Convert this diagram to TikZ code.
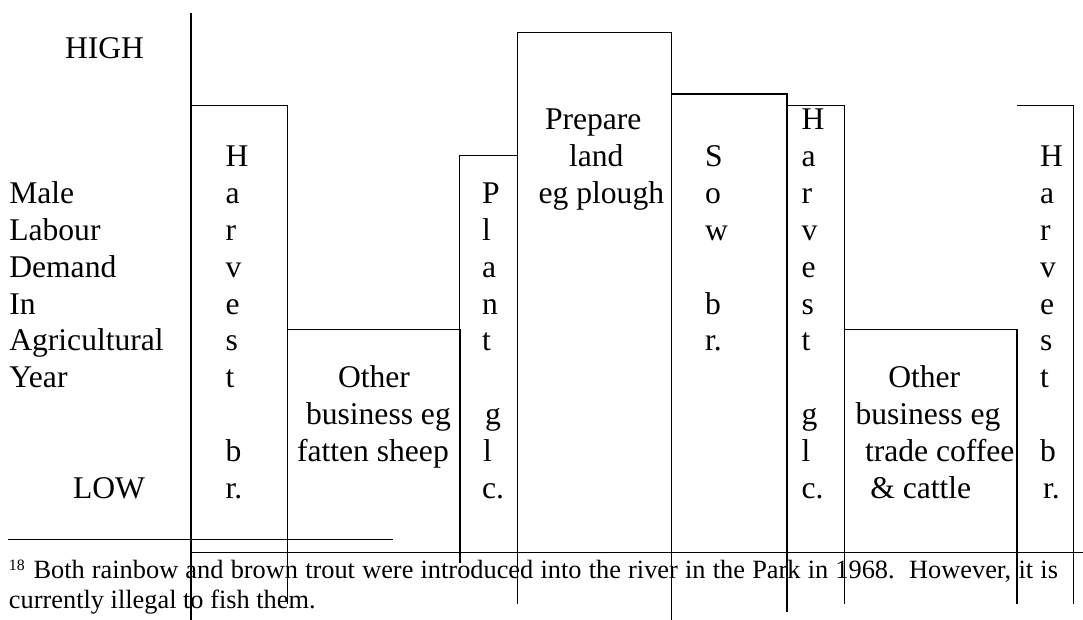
\documentclass[tikz,border=0pt]{standalone}
\usepackage{fontspec}
\setmainfont{Liberation Serif}
\newcommand\rowbox[1]{\hbox{#1}}
\newcommand\colstack[1]{\vtop{\baselineskip=36.84pt\lineskiplimit=-1000pt\lineskip=0pt #1}}
\tikzset{
  lbl/.style={anchor=base west, inner sep=0pt, outer sep=0pt, font=\fontsize{31.6}{36.84}\selectfont},
  fnote/.style={anchor=base west, inner sep=0pt, outer sep=0pt, font=\fontsize{26.35}{30.3}\selectfont},
  fnmark/.style={anchor=base west, inner sep=0pt, outer sep=0pt, font=\fontsize{15.8}{18}\selectfont},
  bar/.style={line width=1.3pt, draw=black},
  rule/.style={line width=1.5pt, draw=black}
}
\begin{document}
\begin{tikzpicture}[x=1pt,y=-1pt]
\useasboundingbox (0,0) rectangle (1083,620);
% grid baselines: y_k = 166.7 + 36.84 k
% axis and bars
\draw[bar] (191,12.7) -- (191,620);
\draw[bar] (191,105.5) -- (287.3,105.5) -- (287.3,604);
\draw[bar] (287.3,329.3) -- (460,329.3) -- (460,563);
\draw[bar] (459.4,367) -- (459.4,155.7) -- (517.5,155.7);
\draw[bar] (517.5,604) -- (517.5,32.3) -- (671.3,32.3) -- (671.3,620);
\draw[bar] (671.3,94) -- (787,94) -- (787,611.7);
\draw[bar] (787,105.7) -- (844.3,105.7) -- (844.3,604.3);
\draw[bar] (844.3,329.3) -- (1017,329.3) -- (1017,604.3);
\draw[bar] (1017,105.7) -- (1073.5,105.7) -- (1073.5,604.3);
\draw[rule] (191,552.5) -- (1083,552.5);
\draw[rule] (8.3,539.3) -- (393,539.3);

% left labels
\node[lbl] (high) at (65,58.3) {HIGH};
\node[lbl] (ylabel) at (9.3,203.5) {\colstack{\rowbox{Male}\rowbox{Labour}\rowbox{Demand}\rowbox{In}\rowbox{Agricultural}\rowbox{Year}}};
\node[lbl] (low) at (73,498.3) {LOW};

% Harvest 1
\node[lbl] (harv1) at (225.5,166.7) {\colstack{\rowbox{H}\rowbox{a}\rowbox{r}\rowbox{v}\rowbox{e}\rowbox{s}\rowbox{t}\rowbox{}\rowbox{b}\rowbox{r.}}};

% Other business 1
\node[lbl] (oth1a) at (338,387.7) {Other};
\node[lbl] (oth1b) at (306,424.6) {business eg};
\node[lbl] (oth1c) at (297,461.4) {fatten sheep};

% Plant
\node[lbl] (plant) at (482,203.5) {\colstack{\rowbox{P}\rowbox{l}\rowbox{a}\rowbox{n}\rowbox{t}\rowbox{}\rowbox{\kern3pt g}\rowbox{\kern1pt l}\rowbox{c.}}};

% Prepare land
\node[lbl] (prep1) at (545,129.9) {Prepare};
\node[lbl] (prep2) at (569,166.7) {land};
\node[lbl] (prep3) at (538.6,203.5) {eg plough};

% Sow
\node[lbl] (sow) at (705,166.7) {\colstack{\rowbox{S}\rowbox{o}\rowbox{w}\rowbox{}\rowbox{b}\rowbox{r.}}};

% Harvest 2
\node[lbl] (harv2) at (801.5,129.9) {\colstack{\rowbox{H}\rowbox{a}\rowbox{r}\rowbox{v}\rowbox{e}\rowbox{s}\rowbox{t}\rowbox{}\rowbox{g}\rowbox{l}\rowbox{c.}}};

% Other business 2
\node[lbl] (oth2a) at (888.3,387.7) {Other};
\node[lbl] (oth2b) at (855.5,424.6) {business eg};
\node[lbl] (oth2c) at (865,461.4) {trade coffee};
\node[lbl] (oth2d) at (870.3,498.3) {\& cattle};

% Harvest 3
\node[lbl] (harv3) at (1040,166.7) {\colstack{\rowbox{H}\rowbox{a}\rowbox{r}\rowbox{v}\rowbox{e}\rowbox{s}\rowbox{t}\rowbox{}\rowbox{b}\rowbox{\kern3pt r.}}};

% footnote
\node[fnmark] (fnm) at (9,570) {18};
\node[fnote] (fn1) at (33.5,578) {\makebox[1024.5pt][s]{Both rainbow and brown trout were introduced into the river in the Park in 1968.\ \ However, it is}};
\node[fnote] (fn2) at (9,608.3) {currently illegal to fish them.};
\end{tikzpicture}
\end{document}
